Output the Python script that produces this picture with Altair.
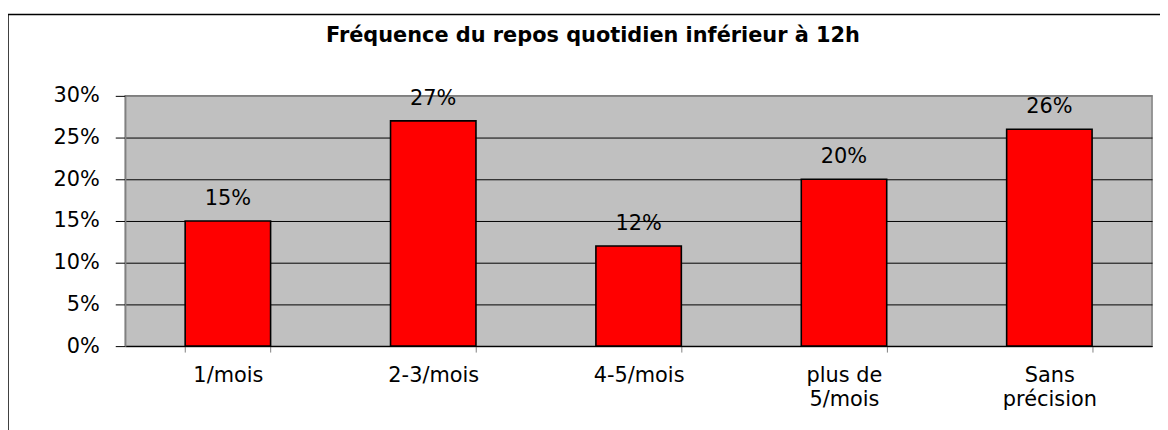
import altair as alt
import pandas as pd

categories = ["1/mois", "2-3/mois", "4-5/mois", "plus de\n5/mois", "Sans\nprécision"]
values = [0.15, 0.27, 0.12, 0.20, 0.26]
y_ticks = [0, 0.05, 0.10, 0.15, 0.20, 0.25, 0.30]
title_text = "Fréquence du repos quotidien inférieur à 12h"

df = pd.DataFrame({"cat": categories, "val": values})

FONT = "DejaVu Sans"
FS = 21

x_enc = alt.X(
    "cat:N",
    sort=None,
    title=None,
    scale=alt.Scale(paddingInner=0.584, paddingOuter=0.292),
    axis=alt.Axis(
        labelAngle=0,
        labelExpr="split(datum.label, '\\n')",
        labelLineHeight=24,
        labelFont=FONT,
        labelFontSize=FS,
        labelColor="black",
        labelPadding=13,
        tickBand="extent",
        tickSize=6,
        tickColor="#808080",
        domainColor="black",
        domainWidth=1,
        grid=False,
    ),
)

y_enc = alt.Y(
    "val:Q",
    title=None,
    scale=alt.Scale(domain=[0, 0.3], nice=False),
    axis=alt.Axis(
        values=y_ticks,
        format=".0%",
        labelFont=FONT,
        labelFontSize=FS,
        labelColor="black",
        labelPadding=16,
        tickSize=10,
        tickColor="black",
        domainColor="#808080",
        domainWidth=1.5,
        grid=True,
        gridColor=alt.condition("datum.value >= 0.3", alt.value("#808080"), alt.value("black")),
        gridWidth=1,
        gridOpacity=1,
    ),
)

bars = alt.Chart(df).mark_bar(
    color="#FF0000", stroke="black", strokeWidth=1.6
).encode(x=x_enc, y=y_enc)

labels = alt.Chart(df).mark_text(
    font=FONT, fontSize=FS, color="black", baseline="middle", dy=-22
).encode(
    x=alt.X("cat:N", sort=None),
    y=alt.Y("val:Q"),
    text=alt.Text("val:Q", format=".0%"),
)

title_df = pd.DataFrame({"t": [title_text]})
title = alt.Chart(title_df).mark_text(
    font=FONT, fontSize=21, fontWeight="bold", color="black",
    align="center", baseline="middle"
).encode(
    text="t:N", x=alt.value(471), y=alt.value(-60)
)

frame = alt.Chart(alt.Data(values=[{"a": 1}])).mark_rect(
    fill=None, stroke="black", strokeWidth=1.5
).encode(
    x=alt.value(-118), x2=alt.value(1100), y=alt.value(-82), y2=alt.value(450)
)

chart = alt.layer(bars, labels, title, frame).properties(
    width=1034,
    height=252,
    autosize=alt.AutoSizeParams(type="none"),
    padding={"left": 118, "top": 87, "right": 8, "bottom": 83},
).configure(
    background="white"
).configure_view(
    fill="#C0C0C0", stroke="#808080", strokeWidth=1.5
)

chart.save("out.html", embed_options={"renderer": "svg", "actions": False})
